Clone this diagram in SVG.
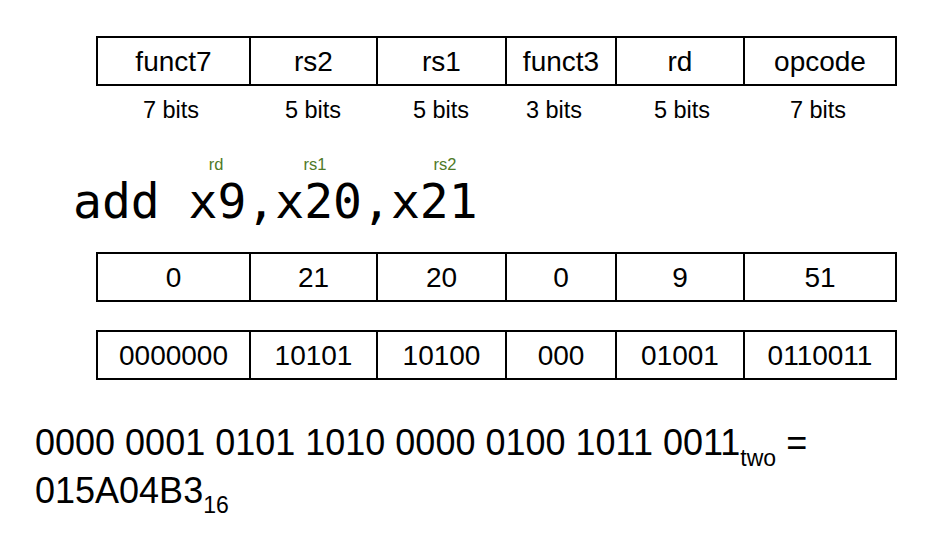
<svg xmlns="http://www.w3.org/2000/svg" width="944" height="546" viewBox="0 0 944 546">
<style>
.cell{fill:#fff;stroke:#000;stroke-width:2}
.t{font-family:"Liberation Sans",Arial,sans-serif;font-size:28px;fill:#000;text-anchor:middle}
.b{font-family:"Liberation Sans",Arial,sans-serif;font-size:23.5px;fill:#000;text-anchor:middle}
.g{font-family:"Liberation Sans",Arial,sans-serif;font-size:16.5px;fill:#4f7a28;text-anchor:middle}
.m{font-family:"DejaVu Sans Mono",Menlo,monospace;font-size:48px;fill:#000}
.big{font-family:"Liberation Sans",Arial,sans-serif;font-size:36px;fill:#000}
</style>
<rect width="944" height="546" fill="#fff"/>
<g id="fields">
<g id="f-funct7"><rect class="cell" x="97" y="37" width="153" height="48"/><text class="t" x="173.5" y="71">funct7</text><text class="b" x="171" y="118">7 bits</text></g>
<g id="f-rs2"><rect class="cell" x="250" y="37" width="127" height="48"/><text class="t" x="313.5" y="71">rs2</text><text class="b" x="313" y="118">5 bits</text></g>
<g id="f-rs1"><rect class="cell" x="377" y="37" width="129" height="48"/><text class="t" x="441.5" y="71">rs1</text><text class="b" x="441" y="118">5 bits</text></g>
<g id="f-funct3"><rect class="cell" x="506" y="37" width="110" height="48"/><text class="t" x="561" y="71">funct3</text><text class="b" x="554" y="118">3 bits</text></g>
<g id="f-rd"><rect class="cell" x="616" y="37" width="128" height="48"/><text class="t" x="680" y="71">rd</text><text class="b" x="682" y="118">5 bits</text></g>
<g id="f-opcode"><rect class="cell" x="744" y="37" width="152" height="48"/><text class="t" x="820" y="71">opcode</text><text class="b" x="818" y="118">7 bits</text></g>
</g>
<g id="instr">
<text class="g" x="216" y="170">rd</text>
<text class="g" x="315" y="170">rs1</text>
<text class="g" x="445" y="170">rs2</text>
<text class="m" x="73" y="218">add x9,x20,x21</text>
</g>
<g id="decimal">
<rect class="cell" x="97" y="253" width="153" height="48"/><text class="t" x="173.5" y="287">0</text>
<rect class="cell" x="250" y="253" width="127" height="48"/><text class="t" x="313.5" y="287">21</text>
<rect class="cell" x="377" y="253" width="129" height="48"/><text class="t" x="441.5" y="287">20</text>
<rect class="cell" x="506" y="253" width="110" height="48"/><text class="t" x="561" y="287">0</text>
<rect class="cell" x="616" y="253" width="128" height="48"/><text class="t" x="680" y="287">9</text>
<rect class="cell" x="744" y="253" width="152" height="48"/><text class="t" x="820" y="287">51</text>
</g>
<g id="binary">
<rect class="cell" x="97" y="331" width="153" height="48"/><text class="t" x="173.5" y="365">0000000</text>
<rect class="cell" x="250" y="331" width="127" height="48"/><text class="t" x="313.5" y="365">10101</text>
<rect class="cell" x="377" y="331" width="129" height="48"/><text class="t" x="441.5" y="365">10100</text>
<rect class="cell" x="506" y="331" width="110" height="48"/><text class="t" x="561" y="365">000</text>
<rect class="cell" x="616" y="331" width="128" height="48"/><text class="t" x="680" y="365">01001</text>
<rect class="cell" x="744" y="331" width="152" height="48"/><text class="t" x="820" y="365">0110011</text>
</g>
<g id="result">
<text class="big" x="35" y="455">0000 0001 0101 1010 0000 0100 1011 0011<tspan font-size="23" dy="11">two</tspan><tspan dy="-11"> =</tspan></text>
<text class="big" x="35" y="503">015A04B3<tspan font-size="23" dy="10">16</tspan></text>
</g>
</svg>
